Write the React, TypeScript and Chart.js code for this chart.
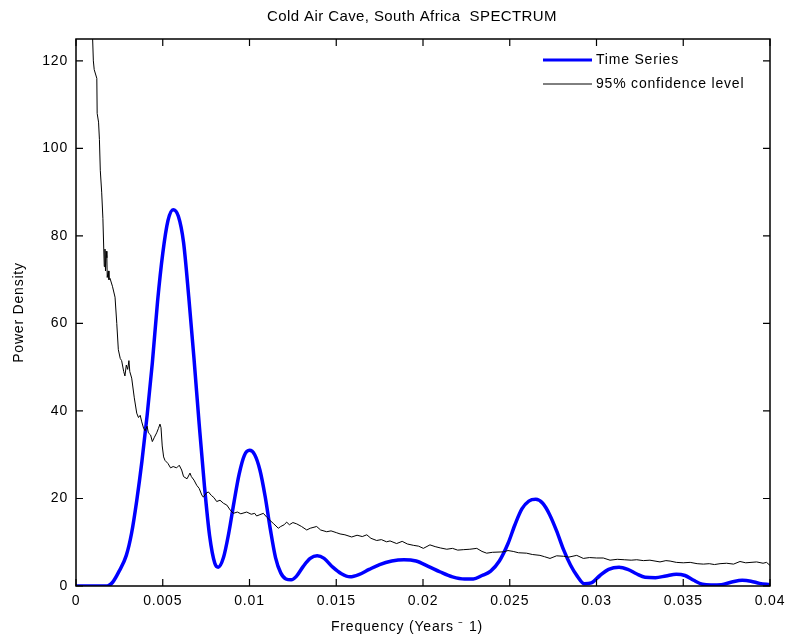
import React, { useEffect, useRef } from "react";
import { Chart, registerables } from "chart.js";

Chart.register(...registerables);

// ---- data ----
const TITLE = "Cold Air Cave, South Africa  SPECTRUM";
const X_LABEL = "Frequency (Years ⁻ 1)";
const Y_LABEL = "Power Density";
const SERIES_NAMES = ["Time Series", "95% confidence level"];

const FREQ_TS = [
  0, 0.0018, 0.0021, 0.0025, 0.0029, 0.0032, 0.0035, 0.0038, 0.0041, 0.0044,
  0.0047, 0.005, 0.0053, 0.0056, 0.0059, 0.0062, 0.0065, 0.0068, 0.0071, 0.0074,
  0.0077, 0.008, 0.0082, 0.0085, 0.0088, 0.0091, 0.0094, 0.0097, 0.01, 0.0103,
  0.0106, 0.0109, 0.0112, 0.0115, 0.0118, 0.0121, 0.0124, 0.0127, 0.0131, 0.0135,
  0.0139, 0.0143, 0.0148, 0.0153, 0.0158, 0.0163, 0.0169, 0.0175, 0.0182, 0.0189,
  0.0196, 0.0203, 0.021, 0.0217, 0.0224, 0.0229, 0.0234, 0.0239, 0.0244, 0.0249,
  0.0253, 0.0257, 0.0261, 0.0265, 0.0269, 0.0273, 0.0277, 0.0281, 0.0285, 0.0289,
  0.0293, 0.0297, 0.0302, 0.0307, 0.0313, 0.0318, 0.0323, 0.0328, 0.0334, 0.034,
  0.0346, 0.0351, 0.0356, 0.0361, 0.0366, 0.0372, 0.0378, 0.0384, 0.0389, 0.0394,
  0.04,
];
const POWER_TS = [
  0, 0, 0.8, 3.5, 7, 12, 19.5, 28.5, 39, 51,
  65, 76, 83.5, 86, 84.5, 78.5, 66, 52, 37, 23,
  11.5, 5.2, 4.3, 6.5, 12, 19, 25.5, 29.8, 31, 30,
  26.5, 20.5, 13, 6.5, 3, 1.6, 1.4, 2.2, 4.5, 6.3,
  6.9, 6.3, 4.3, 2.8, 2.1, 2.6, 3.8, 4.9, 5.7, 6.0,
  5.7, 4.5, 3.2, 2.1, 1.6, 1.6, 2.4, 3.4, 5.7, 9.7,
  14.0, 17.6, 19.4, 19.8, 18.9, 16.3, 12.6, 8.3, 4.8, 2.2,
  0.5, 0.7, 2.4, 3.8, 4.3, 3.8, 2.8, 2.0, 1.9, 2.3,
  2.7, 2.4, 1.3, 0.4, 0.2, 0.3, 0.9, 1.3, 1.1, 0.6,
  0.3,
];

const FREQ_CL = [
  0.0009, 0.001, 0.00105, 0.0012, 0.00122, 0.0013, 0.00135, 0.0014, 0.00148, 0.00155,
  0.0016, 0.00163, 0.00167, 0.0017, 0.00174, 0.00178, 0.0018, 0.00186, 0.0019, 0.00196,
  0.0021, 0.00225, 0.00235, 0.00244, 0.00255, 0.00263, 0.00275, 0.00282, 0.0029, 0.00298,
  0.00305, 0.0031, 0.00321, 0.00336, 0.0035, 0.0036, 0.0037, 0.00379, 0.0039, 0.00398,
  0.0041, 0.00417, 0.0043, 0.0044, 0.00452, 0.00465, 0.00475, 0.00484, 0.0049, 0.00497,
  0.00505, 0.00513, 0.0053, 0.00545, 0.0056, 0.0058, 0.00595, 0.00609, 0.0062, 0.0064,
  0.00657, 0.00665, 0.0068, 0.00696, 0.0071, 0.00725, 0.00734, 0.0075, 0.00763, 0.0078,
  0.00795, 0.00811, 0.0083, 0.0085, 0.00869, 0.0089, 0.00907, 0.0093, 0.0095, 0.00984,
  0.0101, 0.0103, 0.01041, 0.0106, 0.0108, 0.011, 0.01118, 0.0114, 0.01166, 0.0118,
  0.012, 0.01214, 0.0123, 0.0125, 0.01272, 0.013, 0.0133, 0.0135, 0.01387, 0.0141,
  0.01445, 0.0147, 0.015, 0.01522, 0.0155, 0.01589, 0.0162, 0.0165, 0.01676, 0.017,
  0.01733, 0.0176, 0.0179, 0.0181, 0.01848, 0.0188, 0.0191, 0.01944, 0.01975, 0.02002,
  0.0204, 0.0207, 0.021, 0.02137, 0.0217, 0.022, 0.02232, 0.0227, 0.0231, 0.0234,
  0.02367, 0.024, 0.02463, 0.0249, 0.0252, 0.0255, 0.02597, 0.0263, 0.02674, 0.027,
  0.02732, 0.0277, 0.02809, 0.0284, 0.02886, 0.02924, 0.0296, 0.03, 0.03039, 0.03078,
  0.0312, 0.0316, 0.032, 0.03232, 0.0327, 0.03308, 0.03366, 0.034, 0.03424, 0.0346,
  0.035, 0.0354, 0.0358, 0.03616, 0.0365, 0.0368, 0.03712, 0.0375, 0.0379, 0.03827,
  0.0386, 0.03923, 0.0396, 0.0398, 0.04,
];
const POWER_CL = [
  132, 120, 118, 116, 108, 106, 102, 95, 90, 84,
  77, 73, 77, 72, 76.5, 75, 70.5, 72, 70, 70.3,
  68.5, 66, 60, 54, 52, 51.5, 49, 48, 50.5, 49.5,
  51.5, 49, 47.5, 43, 39.5, 38.5, 39, 37.5, 36, 35.5,
  36.5, 35, 34.5, 33, 34, 35, 36, 37, 36.2, 32,
  29.5, 28.7, 28, 27, 27.3, 27, 27.6, 26.5, 25, 24.5,
  25.8, 25, 24.2, 23, 22.3, 20.8, 20.3, 21.2, 21.5, 20.7,
  20.2, 19.3, 19.6, 18.9, 18.5, 17.3, 16.6, 16.9, 16.5, 16.9,
  16.4, 16.6, 16.0, 16.3, 16.6, 15.7, 15.0, 14.2, 13.2, 13.6,
  14.0, 14.6, 14.0, 14.5, 14.2, 13.6, 12.8, 13.2, 13.6, 12.8,
  12.4, 12.6, 12.2, 11.9, 11.7, 11.2, 11.6, 11.3, 11.7, 10.9,
  10.4, 10.6, 10.1, 10.3, 9.7, 10.2, 9.6, 9.3, 9.1, 8.6,
  9.4, 9.0, 8.7, 8.4, 8.6, 8.2, 8.3, 8.4, 8.6, 7.9,
  7.5, 7.7, 7.8, 8.1, 7.9, 7.6, 7.5, 7.2, 7.0, 6.7,
  6.3, 6.9, 6.8, 6.6, 7.0, 6.3, 6.5, 6.4, 6.4, 5.9,
  6.1, 6.0, 5.9, 6.0, 5.8, 5.9, 5.5, 5.8, 5.7, 5.4,
  5.3, 5.4, 5.1, 5.0, 5.1, 4.9, 5.1, 5.2, 5.0, 5.6,
  5.3, 5.5, 5.2, 5.4, 4.7,
];

const X_MIN = 0;
const X_MAX = 0.04;
const X_STEP = 0.005;
const Y_MIN = 0;
const Y_MAX = 125;
const Y_STEP = 20;
const Y_TICK_MAX = 120;

const COLORS = ["#0000ff", "#000000"];
const FONT = '"Liberation Sans", Arial, Helvetica, sans-serif';

const matlabPlugin = {
  id: "matlabFrame",
  beforeDraw(chart: any) {
    (chart.ctx as any).letterSpacing = "0.8px";
  },
  afterDraw(chart: any) {
    const ctx = chart.ctx as CanvasRenderingContext2D;
    const { left, right, top, bottom } = chart.chartArea;
    const xs = chart.scales.x;
    const ys = chart.scales.y;
    ctx.save();
    // box
    ctx.strokeStyle = "#000";
    ctx.lineWidth = 1.5;
    ctx.strokeRect(left, top, right - left, bottom - top);
    // inward ticks
    const TL = 7;
    ctx.lineWidth = 1.2;
    ctx.beginPath();
    xs.ticks.forEach((t: any) => {
      const px = xs.getPixelForValue(t.value);
      ctx.moveTo(px, bottom);
      ctx.lineTo(px, bottom - TL);
      ctx.moveTo(px, top);
      ctx.lineTo(px, top + TL);
    });
    ys.ticks.forEach((t: any) => {
      const py = ys.getPixelForValue(t.value);
      ctx.moveTo(left, py);
      ctx.lineTo(left + TL, py);
      ctx.moveTo(right, py);
      ctx.lineTo(right - TL, py);
    });
    ctx.stroke();

    // title
    (ctx as any).letterSpacing = "0.4px";
    ctx.fillStyle = "#000";
    ctx.font = `15px ${FONT}`;
    ctx.textAlign = "center";
    ctx.textBaseline = "middle";
    ctx.fillText(TITLE, 412, 17);

    // x label
    (ctx as any).letterSpacing = "0.8px";
    ctx.font = `14px ${FONT}`;
    ctx.fillText(X_LABEL, 407, 627);

    // legend
    const lx0 = right - 227;
    const lx1 = right - 178;
    const rows = [top + 21, top + 45];
    ctx.textAlign = "left";
    chart.data.datasets.forEach((ds: any, i: number) => {
      const y = rows[i];
      ctx.strokeStyle = ds.borderColor;
      ctx.lineWidth = i === 0 ? 3 : 1;
      ctx.beginPath();
      ctx.moveTo(lx0, y);
      ctx.lineTo(lx1, y);
      ctx.stroke();
      ctx.fillStyle = "#000";
      ctx.fillText(ds.label, lx1 + 4, y);
    });
    ctx.restore();
  },
};

export default function App() {
  const ref = useRef<HTMLCanvasElement | null>(null);

  useEffect(() => {
    document.body.style.margin = "0";
    if (!ref.current) return;
    const tsData = FREQ_TS.map((f, i) => ({ x: f, y: POWER_TS[i] }));
    const clData = FREQ_CL.map((f, i) => ({ x: f, y: POWER_CL[i] }));
    const chart = new Chart(ref.current, {
      type: "line",
      data: {
        datasets: [
          {
            label: SERIES_NAMES[0],
            data: tsData,
            borderColor: COLORS[0],
            backgroundColor: COLORS[0],
            borderWidth: 3.5,
            pointRadius: 0,
            cubicInterpolationMode: "monotone",
            order: 1,
          },
          {
            label: SERIES_NAMES[1],
            data: clData,
            borderColor: COLORS[1],
            backgroundColor: COLORS[1],
            borderWidth: 1,
            pointRadius: 0,
            tension: 0,
            order: 0,
          },
        ],
      },
      options: {
        animation: false,
        responsive: false,
        maintainAspectRatio: false,
        parsing: false as any,
        layout: { padding: { top: 39, right: 15, left: 0, bottom: 0 } },
        plugins: {
          legend: { display: false },
          title: { display: false },
          tooltip: { enabled: false },
        },
        scales: {
          x: {
            type: "linear",
            min: X_MIN,
            max: X_MAX,
            border: { display: false },
            grid: { display: false, drawTicks: false },
            ticks: {
              stepSize: X_STEP,
              maxRotation: 0,
              autoSkip: false,
              padding: 7,
              color: "#000",
              font: { size: 14, family: FONT },
              callback: (v: any) => String(parseFloat(Number(v).toFixed(4))),
            },
            afterFit: (s: any) => {
              s.height = 52;
              s.paddingLeft = 0;
              s.paddingRight = 0;
            },
          },
          y: {
            type: "linear",
            min: Y_MIN,
            max: Y_MAX,
            border: { display: false },
            grid: { display: false, drawTicks: false },
            afterBuildTicks: (s: any) => {
              s.ticks = s.ticks.filter((t: any) => t.value <= Y_TICK_MAX);
            },
            ticks: {
              stepSize: Y_STEP,
              padding: 8,
              color: "#000",
              font: { size: 14, family: FONT },
            },
            title: {
              display: true,
              text: Y_LABEL,
              color: "#000",
              font: { size: 14, family: FONT },
              padding: { top: 11, bottom: 0 },
            },
            afterFit: (s: any) => {
              s.width = 76;
              s.paddingTop = 0;
              s.paddingBottom = 0;
            },
          },
        },
      },
      plugins: [matlabPlugin],
    });
    return () => chart.destroy();
  }, []);

  return (
    <div style={{ width: 785, height: 638, background: "#fff" }}>
      <canvas ref={ref} width={785} height={638} style={{ display: "block" }} />
    </div>
  );
}
